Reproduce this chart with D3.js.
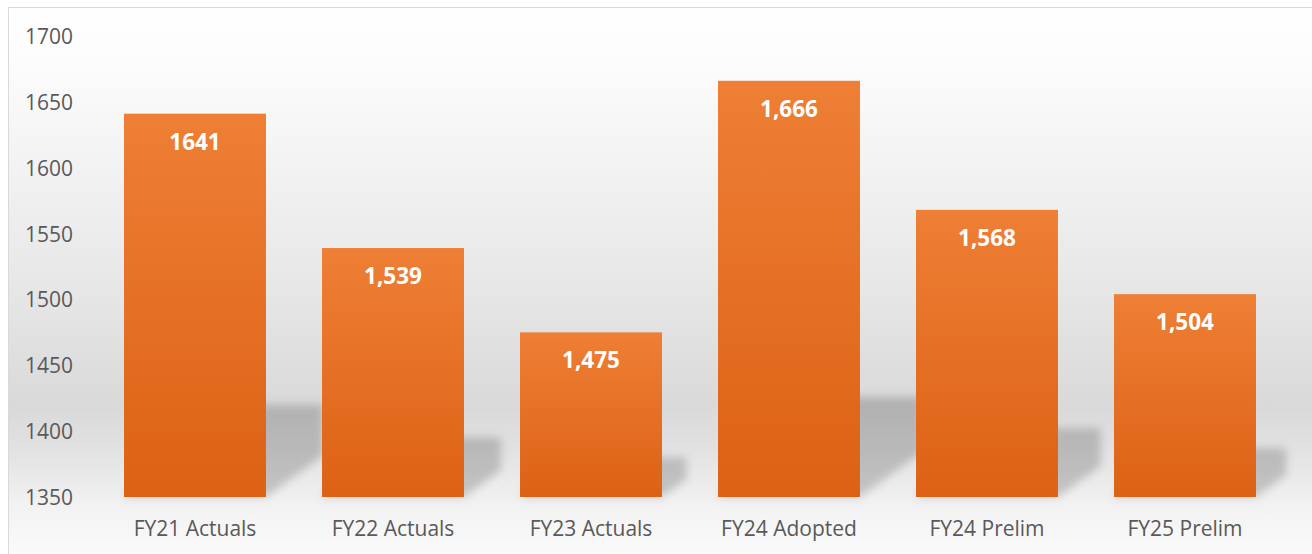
<!DOCTYPE html>
<html>
<head>
<meta charset="utf-8">
<script src="https://cdn.jsdelivr.net/npm/d3@7"></script>
<style>
  body { margin: 0; background: #fff; }
  svg { display: block; }
</style>
</head>
<body>
<script>
// data
let categories = ['FY21 Actuals', 'FY22 Actuals', 'FY23 Actuals', 'FY24 Adopted', 'FY24 Prelim', 'FY25 Prelim'];
let values = [1641, 1539, 1475, 1666, 1568, 1504];
let valueLabels = ['1641', '1,539', '1,475', '1,666', '1,568', '1,504'];
let yTicks = [1350, 1400, 1450, 1500, 1550, 1600, 1650, 1700];

let W = 1312, H = 554;

let svg = d3.select('body').append('svg')
    .attr('width', W)
    .attr('height', H);

let defs = svg.append('defs');

// chart area background: white -> grey "wall" -> light floor
let bg = defs.append('linearGradient')
    .attr('id', 'bgGrad')
    .attr('x1', 0).attr('y1', 0).attr('x2', 0).attr('y2', 1);
[[0, '#ffffff'], [0.12, '#fbfbfb'], [0.5, '#e7e7e7'], [0.72, '#d9d9d9'], [0.8, '#e2e2e2'], [0.9, '#f2f2f2'], [1, '#fcfcfc']]
    .forEach(s => bg.append('stop').attr('offset', s[0]).attr('stop-color', s[1]));

let barGrad = defs.append('linearGradient')
    .attr('id', 'barGrad')
    .attr('x1', 0).attr('y1', 0).attr('x2', 0).attr('y2', 1);
barGrad.append('stop').attr('offset', 0).attr('stop-color', '#ee7f35');
barGrad.append('stop').attr('offset', 1).attr('stop-color', '#dc6114');

defs.append('filter')
    .attr('id', 'blur')
    .attr('x', '-50%').attr('y', '-50%').attr('width', '200%').attr('height', '200%')
    .append('feGaussianBlur')
    .attr('stdDeviation', 4);

svg.append('rect')
    .attr('x', 8.5).attr('y', 7.5)
    .attr('width', W).attr('height', H)
    .attr('fill', 'url(#bgGrad)')
    .attr('stroke', '#d9d9d9');

let x = d3.scaleBand()
    .domain(categories)
    .range([96, 1284])
    .paddingInner(0.283)
    .paddingOuter(0.1415);

let y = d3.scaleLinear()
    .domain([1350, 1700])
    .range([497, 36]);

let base = y(1350);

// cast shadows behind the bars
svg.append('g')
    .selectAll('path')
    .data(values)
    .join('path')
    .attr('d', (d, i) => {
        let L = x(categories[i]), R = L + x.bandwidth();
        let h = (base - y(d)) * 0.24;
        let dx = h * 0.62;
        return 'M' + L + ',' + base + 'L' + R + ',' + base +
            'L' + (R + dx) + ',' + (base - h * 0.45) +
            'L' + (R + dx) + ',' + (base - h) +
            'L' + (L + dx) + ',' + (base - h) + 'Z';
    })
    .attr('fill', '#000')
    .attr('fill-opacity', 0.18)
    .attr('filter', 'url(#blur)');

let bars = svg.append('g');

bars.selectAll('rect')
    .data(values)
    .join('rect')
    .attr('x', (d, i) => x(categories[i]))
    .attr('y', d => y(d))
    .attr('width', x.bandwidth())
    .attr('height', d => base - y(d))
    .attr('fill', 'url(#barGrad)');

bars.selectAll('text')
    .data(values)
    .join('text')
    .attr('x', (d, i) => x(categories[i]) + x.bandwidth() / 2)
    .attr('y', d => y(d) + 36)
    .attr('text-anchor', 'middle')
    .style('font-family', '"Open Sans", sans-serif')
    .style('font-weight', 'bold')
    .style('font-size', '22.5px')
    .attr('fill', '#fff')
    .text((d, i) => valueLabels[i]);

// y axis labels, no line or ticks
let yAxis = svg.append('g')
    .attr('transform', 'translate(73,0)')
    .call(d3.axisLeft(y).tickValues(yTicks).tickSize(0).tickPadding(0).tickFormat(d => d));
yAxis.select('.domain').remove();
yAxis.selectAll('text')
    .attr('dy', '0.36em')
    .attr('fill', '#595959')
    .style('font-family', '"Open Sans", sans-serif')
    .style('font-size', '21px');

// x axis labels
let xAxis = svg.append('g')
    .attr('transform', 'translate(0,' + base + ')')
    .call(d3.axisBottom(x).tickSize(0).tickPadding(0));
xAxis.select('.domain').remove();
xAxis.selectAll('text')
    .attr('y', 39)
    .attr('dy', 0)
    .attr('fill', '#595959')
    .style('font-family', '"Open Sans", sans-serif')
    .style('font-size', '21px');
</script>
</body>
</html>
